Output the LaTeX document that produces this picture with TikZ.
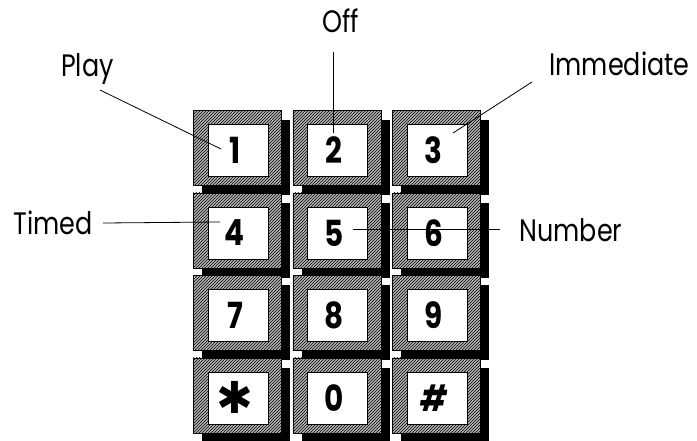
\documentclass[tikz,border=0pt]{standalone}
\usepackage{fontspec}
\setmainfont{Poppins}[FakeStretch=0.82]
\newfontfamily\symfont{DejaVu Sans}
\usetikzlibrary{patterns,calc}
\tikzset{
  keyshadow/.style={fill=black},
  keyframe/.style={draw=black, line width=0.8pt, minimum width=88pt, minimum height=75pt,
    inner sep=0pt, preaction={fill=gray!58}, pattern=north east lines, pattern color=black},
  keyface/.style={draw=black, line width=0.8pt, fill=white, minimum width=60pt,
    minimum height=52pt, inner sep=0pt},
  keydigit/.style={inner sep=0pt, font=\bfseries\fontsize{36}{36}\selectfont},
  lbl/.style={inner sep=0pt, anchor=base, font=\fontsize{31}{31}\selectfont},
  leader/.style={draw=black, line width=0.8pt}
}
\newcommand\padkey[4]{%
  \fill[keyshadow] (#2+9,#3+10) rectangle ++(88,75);
  \node[keyframe, anchor=north west] (#1) at (#2,#3) {};
  \node[keyface, anchor=north west] (#1f) at (#2+14.5,#3+14) {};
  \node[keydigit] (#1d) at ([xshift=-3pt]#1f.center) {#4};
}
\begin{document}
\begin{tikzpicture}[x=1pt,y=-1pt]
\useasboundingbox (0,0) rectangle (697,440);
\fill[white] (0,0) rectangle (697,440);
% keys
\padkey{k1}{193}{110}{1}
\padkey{k2}{292.5}{110}{2}
\padkey{k3}{392}{110}{3}
\padkey{k4}{193}{192.5}{4}
\padkey{k5}{292.5}{192.5}{5}
\padkey{k6}{392}{192.5}{6}
\padkey{k7}{193}{275}{7}
\padkey{k8}{292.5}{275}{8}
\padkey{k9}{392}{275}{9}
\padkey{kstar}{193}{357.5}{{\symfont\fontsize{44}{44}\selectfont ✱}}
\padkey{k0}{292.5}{357.5}{0}
\padkey{khash}{392}{357.5}{{\itshape\#}}
% labels
\node[lbl] (play) at (87.5,76) {Play};
\node[lbl] (off) at (340.5,32) {Off};
\node[lbl] (imm) at (619.5,75) {Immediate};
\node[lbl] (timed) at (53,234) {Timed};
\node[lbl] (number) at (571,241) {Number};
% leader end points
\coordinate (playfrom) at (100,90);   \coordinate (playto) at (221,149);
\coordinate (offfrom) at (333,52);    \coordinate (offto) at (333,133);
\coordinate (immfrom) at (532,82);    \coordinate (immto) at (453,133);
\coordinate (timedfrom) at (103,223); \coordinate (timedto) at (220,222);
\coordinate (numfrom) at (500,229);   \coordinate (numto) at (353,229);
\draw[leader] (playfrom) -- (playto);
\draw[leader] (offfrom) -- (offto);
\draw[leader] (immfrom) -- (immto);
\draw[leader] (timedfrom) -- (timedto);
\draw[leader] (numfrom) -- (numto);
\end{tikzpicture}
\end{document}
